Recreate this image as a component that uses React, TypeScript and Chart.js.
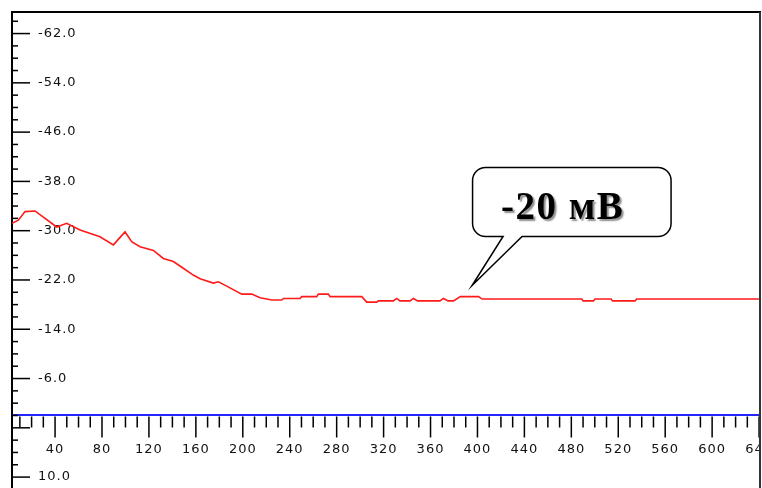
import React, { useEffect, useRef } from 'react';
import { Chart, registerables } from 'chart.js';

Chart.register(...registerables);

// ---- data ----
const X_VALUES = [
  3.3, 8.7, 14.4, 22.9, 41.4, 49.9, 61.3, 78.3, 89.7, 99.6, 105.3, 112.4, 123.8, 132.3, 140.8,
  149.3, 157.8, 163.6, 174.9, 179.2, 186.3, 199.1, 207.6, 214.7, 224.7, 233.2, 234.6, 248.8,
  250.2, 263.0, 264.4, 272.9, 274.4, 301.4, 305.6, 314.2, 315.5, 328.3, 331.2, 334.0, 342.5,
  345.4, 349.0, 368.1, 371.0, 375.0, 379.6, 385.4, 400.9, 404.0, 488.9, 490.0, 498.8, 500.2,
  513.9, 515.1, 534.3, 535.6, 640.8,
];
const Y_VALUES = [
  -31.2, -31.7, -33.1, -33.2, -30.6, -31.2, -30.1, -29.0, -27.7, -29.8, -28.2, -27.4, -26.8, -25.5, -25.0,
  -23.9, -22.8, -22.2, -21.5, -21.7, -21.0, -19.7, -19.7, -19.1, -18.75, -18.75, -19.0, -19.0,
  -19.3, -19.3, -19.7, -19.7, -19.3, -19.3, -18.4, -18.4, -18.6, -18.6, -19.0, -18.6, -18.6,
  -19.0, -18.6, -18.6, -19.0, -18.6, -18.6, -19.3, -19.3, -18.9, -18.9, -18.6, -18.6, -18.9,
  -18.9, -18.6, -18.6, -18.9, -18.9,
];

const X_MIN = 3.3;
const X_MAX = 640.8;
const X_MINOR_STEP = 10;
const X_LABEL_STEP = 40;

const Y_MIN = -65.5;
const Y_MAX = 11.77;
const Y_MINOR_STEP = 2;
const Y_MAJOR_TICKS = [-62, -54, -46, -38, -30, -22, -14, -6, 2, 10];
const Y_HIDDEN_LABELS = [2];

const CALLOUT_TEXT = '-20 мВ';
const CALLOUT_X = 395.4;
const CALLOUT_Y = -21.1;

const isYMajor = (v: number) => Y_MAJOR_TICKS.some((m) => Math.abs(m - v) < 1e-6);
const isXMajor = (v: number) => Math.abs(v % X_LABEL_STEP) < 1e-6;

const labelSpacingPlugin = {
  id: 'labelSpacing',
  beforeDraw(chart: any) {
    try {
      (chart.ctx as any).letterSpacing = '1px';
    } catch (e) {
      /* ignore */
    }
  },
  afterDatasetsDraw(chart: any) {
    try {
      (chart.ctx as any).letterSpacing = '0px';
    } catch (e) {
      /* ignore */
    }
  },
};

const tickMarksPlugin = {
  id: 'tickMarks',
  afterDraw(chart: any) {
    const { ctx, chartArea } = chart;
    const xs = chart.scales.x;
    const ys = chart.scales.y;
    ctx.save();
    ctx.strokeStyle = '#000';
    ctx.lineWidth = 1.5;
    // y ticks point right, into the plot
    ys.ticks.forEach((t: any) => {
      const py = ys.getPixelForValue(t.value);
      const len = isYMajor(t.value) ? 18 : 6;
      ctx.beginPath();
      ctx.moveTo(chartArea.left, py);
      ctx.lineTo(chartArea.left + len, py);
      ctx.stroke();
    });
    // x ticks hang below the zero line
    const axisY = ys.getPixelForValue(0);
    xs.ticks.forEach((t: any) => {
      const px = xs.getPixelForValue(t.value);
      const len = isXMajor(t.value) ? 21 : 11;
      ctx.beginPath();
      ctx.moveTo(px, axisY + 1);
      ctx.lineTo(px, axisY + 1 + len);
      ctx.stroke();
    });
    // frame: top and right
    ctx.fillStyle = '#fff';
    ctx.fillRect(chartArea.right + 0.5, 0, 10, chart.height);
    ctx.strokeStyle = '#000';
    ctx.lineWidth = 2;
    ctx.beginPath();
    ctx.moveTo(chartArea.left - 1, chartArea.top);
    ctx.lineTo(chartArea.right + 1, chartArea.top);
    ctx.stroke();
    ctx.strokeStyle = '#333';
    ctx.beginPath();
    ctx.moveTo(chartArea.right, chartArea.top);
    ctx.lineTo(chartArea.right, chart.height);
    ctx.stroke();
    ctx.restore();
  },
};

const calloutPlugin = {
  id: 'callout',
  afterDraw(chart: any) {
    const { ctx } = chart;
    const tx = chart.scales.x.getPixelForValue(CALLOUT_X);
    const ty = chart.scales.y.getPixelForValue(CALLOUT_Y);
    const L = tx + 0.5;
    const R = tx + 199;
    const T = ty - 118;
    const B = ty - 49;
    const r = 13;
    const b1 = tx + 31;
    const b2 = tx + 50;
    ctx.save();
    ctx.beginPath();
    ctx.moveTo(L + r, T);
    ctx.lineTo(R - r, T);
    ctx.arcTo(R, T, R, T + r, r);
    ctx.lineTo(R, B - r);
    ctx.arcTo(R, B, R - r, B, r);
    ctx.lineTo(b2, B);
    ctx.lineTo(tx, ty);
    ctx.lineTo(b1, B);
    ctx.lineTo(L + r, B);
    ctx.arcTo(L, B, L, B - r, r);
    ctx.lineTo(L, T + r);
    ctx.arcTo(L, T, L + r, T, r);
    ctx.closePath();
    ctx.fillStyle = '#fff';
    ctx.fill();
    ctx.strokeStyle = '#000';
    ctx.lineWidth = 1.5;
    ctx.stroke();

    ctx.font = 'bold 39px "Liberation Serif", "Times New Roman", serif';
    try {
      (ctx as any).letterSpacing = '1.5px';
    } catch (e) {
      /* ignore */
    }
    ctx.textAlign = 'center';
    ctx.textBaseline = 'alphabetic';
    ctx.shadowColor = 'rgba(0,0,0,0.45)';
    ctx.shadowOffsetX = 2;
    ctx.shadowOffsetY = 2;
    ctx.shadowBlur = 1.5;
    ctx.fillStyle = '#000';
    ctx.fillText(CALLOUT_TEXT, tx + 90.5, ty - 66.5);
    ctx.restore();
  },
};

const zeroPad = (s: any) => {
  s.paddingLeft = 0;
  s.paddingRight = 0;
  s.paddingTop = 0;
  s.paddingBottom = 0;
};

export default function App() {
  const canvasRef = useRef<HTMLCanvasElement | null>(null);

  useEffect(() => {
    if (!canvasRef.current) return;
    const points = X_VALUES.map((x, i) => ({ x, y: Y_VALUES[i] }));
    const tickFont = { family: '"DejaVu Sans", Verdana, sans-serif', size: 13, lineHeight: 1 };
    const chart = new Chart(canvasRef.current, {
      type: 'line',
      data: {
        datasets: [
          {
            data: points,
            borderColor: '#ff1a1a',
            borderWidth: 1.6,
            pointRadius: 0,
            tension: 0,
            fill: false,
          },
        ],
      },
      options: {
        responsive: false,
        maintainAspectRatio: false,
        devicePixelRatio: 1,
        animation: false,
        layout: { padding: { left: 12, top: 12, right: 2, bottom: 0 } },
        plugins: { legend: { display: false }, tooltip: { enabled: false }, title: { display: false } },
        scales: {
          x: {
            type: 'linear',
            min: X_MIN,
            max: X_MAX,
            position: { y: 0 } as any,
            grid: { display: true, drawOnChartArea: false, drawTicks: false },
            border: { display: true, color: '#2525ff', width: 2 },
            ticks: {
              stepSize: X_MINOR_STEP,
              includeBounds: false,
              autoSkip: false,
              maxRotation: 0,
              minRotation: 0,
              padding: 28,
              color: '#111',
              font: tickFont,
              callback: (v: any) => (isXMajor(Number(v)) ? String(v) : ''),
            },
            afterFit: zeroPad,
          },
          y: {
            type: 'linear',
            reverse: true,
            min: Y_MIN,
            max: Y_MAX,
            position: 'left',
            grid: { display: true, drawOnChartArea: false, drawTicks: false },
            border: { display: true, color: '#000', width: 2 },
            ticks: {
              stepSize: Y_MINOR_STEP,
              includeBounds: false,
              autoSkip: false,
              mirror: true,
              padding: 26,
              color: '#111',
              font: tickFont,
              callback: (v: any) => {
                const n = Number(v);
                if (!isYMajor(n) || Y_HIDDEN_LABELS.includes(n)) return '';
                return n.toFixed(1);
              },
            },
            afterFit: (s: any) => {
              zeroPad(s);
              s.width = 0;
            },
          },
        },
      },
      plugins: [labelSpacingPlugin, tickMarksPlugin, calloutPlugin],
    });
    return () => chart.destroy();
  }, []);

  return (
    <div style={{ position: 'fixed', left: 0, top: 0, width: 762, height: 488, background: '#fff' }}>
      <canvas ref={canvasRef} width={762} height={488} style={{ display: 'block' }} />
    </div>
  );
}
